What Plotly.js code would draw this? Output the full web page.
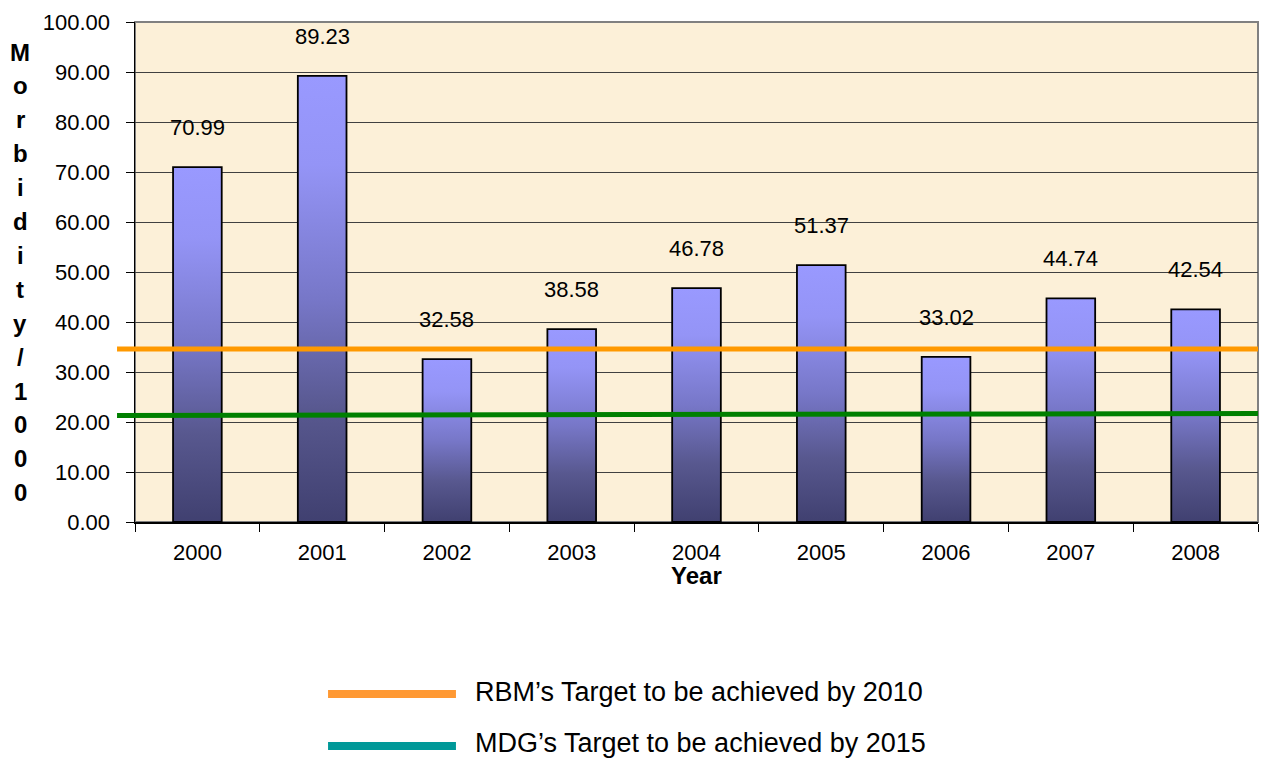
<!DOCTYPE html>
<html><head><meta charset="utf-8">
<script src="https://cdn.plot.ly/plotly-3.0.1.min.js"></script>
<style>html,body{margin:0;padding:0;background:#fff;}#chart{width:1263px;height:758px;}</style>
</head><body><div id="chart"></div>
<script>
// ---- data ----
const years = ['2000', '2001', '2002', '2003', '2004', '2005', '2006', '2007', '2008'];
const morbidity = [70.99, 89.23, 32.58, 38.58, 46.78, 51.37, 33.02, 44.74, 42.54];
const rbmTarget = [34.6, 34.6];   // start, end value of RBM target line
const mdgTarget = [21.3, 21.7];   // start, end value of MDG target line
const yTickVals = [0, 10, 20, 30, 40, 50, 60, 70, 80, 90, 100];
const legendLabels = ['RBM\u2019s Target to be achieved by 2010', 'MDG\u2019s Target to be achieved by 2015'];
const yTitleText = 'Morbidity/1000';
const xTitleText = 'Year';

// ---- styles ----
const FONT = 'Liberation Sans, Arial, sans-serif';
const lineColors = ['#FF9900', '#008000'];
const legendColors = ['#FF9933', '#009999'];

const trace = {
  type: 'bar', x: years, y: morbidity,
  marker: {color: '#7777CC', line: {color: '#000000', width: 1.8}},
  hoverinfo: 'x+y', showlegend: false
};

const annotations = [];
years.forEach((yr, i) => {
  annotations.push({
    x: i, y: morbidity[i], xref: 'x', yref: 'y', text: morbidity[i].toFixed(2),
    showarrow: false, yanchor: 'bottom', yshift: 25,
    font: {family: FONT, size: 22, color: '#000'}
  });
});
// stacked y-axis title letters
Array.from(yTitleText).forEach((ch, i) => {
  annotations.push({
    x: 0, y: 1, xref: 'paper', yref: 'paper', xshift: -115, yshift: -(30 + i * 33.9),
    xanchor: 'center', yanchor: 'middle', showarrow: false, text: ch,
    font: {family: FONT, size: 24, color: '#000', weight: 'bold'}
  });
});
// x title
annotations.push({
  x: 0.5, y: 0, xref: 'paper', yref: 'paper', yanchor: 'middle', yshift: -53,
  showarrow: false, text: '<b>' + xTitleText + '</b>',
  font: {family: FONT, size: 24, color: '#000'}
});
// legend
const legendY = [-0.340, -0.441];
legendLabels.forEach((lab, i) => {
  annotations.push({
    x: 0.301, y: legendY[i], xref: 'paper', yref: 'paper', xanchor: 'left', yanchor: 'middle',
    showarrow: false, text: lab, font: {family: FONT, size: 27, color: '#000'}
  });
});

const shapes = [
  {type: 'rect', xref: 'paper', yref: 'paper', x0: 0, x1: 1, y0: 0, y1: 1,
   line: {color: '#808080', width: 2}, layer: 'below'},
  {type: 'line', xref: 'paper', yref: 'y', x0: -0.016, x1: 1, y0: rbmTarget[0], y1: rbmTarget[1],
   line: {color: lineColors[0], width: 5}},
  {type: 'line', xref: 'paper', yref: 'y', x0: -0.016, x1: 1, y0: mdgTarget[0], y1: mdgTarget[1],
   line: {color: lineColors[1], width: 5}},
  {type: 'line', xref: 'paper', yref: 'paper', x0: 0.1719, x1: 0.2858, y0: -0.344, y1: -0.344,
   line: {color: legendColors[0], width: 8}},
  {type: 'line', xref: 'paper', yref: 'paper', x0: 0.1719, x1: 0.2858, y0: -0.448, y1: -0.448,
   line: {color: legendColors[1], width: 8}}
];

const layout = {
  width: 1263, height: 758,
  margin: {l: 135, r: 5, t: 22, b: 236},
  paper_bgcolor: '#ffffff', plot_bgcolor: '#FCF0D8',
  font: {family: FONT, color: '#000'},
  bargap: 0.61,
  xaxis: {
    type: 'category', range: [-0.5, years.length - 0.5], autorange: false,
    tickson: 'boundaries', ticks: 'outside', ticklen: 8, tickcolor: '#000',
    showline: true, linecolor: '#000', linewidth: 1.5, showgrid: false, tickangle: 0,
    tickfont: {family: FONT, size: 22, color: '#000'}, ticklabelstandoff: 10,
    fixedrange: true
  },
  yaxis: {
    range: [0, 100], autorange: false, tickvals: yTickVals, tickformat: '.2f', ticks: 'outside', ticklen: 8,
    tickcolor: '#000', showline: true, linecolor: '#000', linewidth: 1.5,
    showgrid: true, gridcolor: '#404040', gridwidth: 1, zeroline: false,
    tickfont: {family: FONT, size: 22, color: '#000'}, ticklabelstandoff: 11,
    fixedrange: true
  },
  annotations: annotations, shapes: shapes, showlegend: false
};

Plotly.newPlot('chart', [trace], layout, {displayModeBar: false, staticPlot: true}).then(gd => {
  const svg = gd.querySelector('svg.main-svg');
  const ns = 'http://www.w3.org/2000/svg';
  let defs = svg.querySelector('defs');
  if (!defs) { defs = document.createElementNS(ns, 'defs'); svg.insertBefore(defs, svg.firstChild); }
  const grad = document.createElementNS(ns, 'linearGradient');
  grad.setAttribute('id', 'barGrad');
  grad.setAttribute('x1', '0'); grad.setAttribute('y1', '0');
  grad.setAttribute('x2', '0'); grad.setAttribute('y2', '1');
  [[0, '#9999FF'], [0.2, '#9494F6'], [0.5, '#7777C8'], [0.75, '#58588F'], [1, '#404070']].forEach(s => {
    const st = document.createElementNS(ns, 'stop');
    st.setAttribute('offset', s[0]); st.setAttribute('stop-color', s[1]);
    grad.appendChild(st);
  });
  defs.appendChild(grad);
  gd.querySelectorAll('.trace.bars .point path').forEach(p => { p.style.fill = 'url(#barGrad)'; });
});
</script></body></html>
